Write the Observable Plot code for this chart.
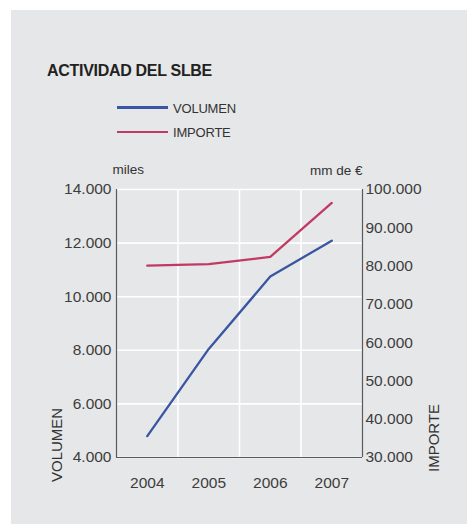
<!DOCTYPE html>
<html>
<head>
<meta charset="utf-8">
<script src="https://cdn.jsdelivr.net/npm/d3@7"></script>
<script src="https://cdn.jsdelivr.net/npm/@observablehq/plot@0.6"></script>
<style>
  html, body { margin: 0; padding: 0; background: #ffffff; }
  #page { position: relative; width: 467px; height: 524px; overflow: hidden; font-family: "Liberation Sans", Arial, sans-serif; }
  #bg { position: absolute; left: 11px; top: 10px; right: 0; bottom: 0; background: #e6e7e8; }
  .t { position: absolute; line-height: 1; white-space: nowrap; color: #333; }
  .rot { transform-origin: left top; transform: rotate(-90deg); }
  .sw { position: absolute; height: 2.5px; width: 51px; }
  #chart { position: absolute; left: 0; top: 0; }
</style>
</head>
<body>
<div id="page">
  <div id="bg"></div>
  <div id="chart"></div>
  <div class="t" style="left:47px;top:63px;font-size:16px;font-weight:bold;letter-spacing:-0.3px;color:#222;">ACTIVIDAD DEL SLBE</div>
  <div class="sw" id="sw0" style="left:117px;top:106px;"></div>
  <div class="t" id="lg0" style="left:173px;top:101.7px;font-size:13px;letter-spacing:-0.2px;"></div>
  <div class="sw" id="sw1" style="left:117px;top:130.5px;"></div>
  <div class="t" id="lg1" style="left:173px;top:126.3px;font-size:13px;letter-spacing:-0.2px;"></div>
  <div class="t" id="uL" style="left:112.5px;top:163px;font-size:13.5px;"></div>
  <div class="t" id="uR" style="left:310px;top:163.5px;font-size:13.5px;"></div>
  <div class="t rot" id="aL" style="left:49px;top:481.7px;font-size:15px;"></div>
  <div class="t rot" id="aR" style="left:425.6px;top:471.7px;font-size:15px;"></div>
</div>
<script>
// ---- data ----
const years = [2004, 2005, 2006, 2007];
const volumen = [4800, 8050, 10750, 12090];   // miles (left axis)
const importe = [80100, 80500, 82400, 96500]; // mm de € (right axis)
const leftTicks = [4000, 6000, 8000, 10000, 12000, 14000];
const rightTicks = [30000, 40000, 50000, 60000, 70000, 80000, 90000, 100000];
const seriesNames = ["VOLUMEN", "IMPORTE"];
const seriesColors = ["#3a55a2", "#c13a63"];
const unitLeft = "miles";
const unitRight = "mm de €";

// ---- labels ----
document.getElementById("lg0").textContent = seriesNames[0];
document.getElementById("lg1").textContent = seriesNames[1];
document.getElementById("sw0").style.background = seriesColors[0];
document.getElementById("sw1").style.background = seriesColors[1];
document.getElementById("uL").textContent = unitLeft;
document.getElementById("uR").textContent = unitRight;
document.getElementById("aL").textContent = seriesNames[0];
document.getElementById("aR").textContent = seriesNames[1];

// ---- scales ----
const es = d3.formatLocale({decimal: ",", thousands: ".", grouping: [3], currency: ["", " €"]});
const fmt = es.format(",.0f");
const yDomain = [leftTicks[0], leftTicks[leftTicks.length - 1]];
const rDomain = [rightTicks[0], rightTicks[rightTicks.length - 1]];
const toLeft = v => yDomain[0] + (v - rDomain[0]) * (yDomain[1] - yDomain[0]) / (rDomain[1] - rDomain[0]);
const toRight = v => rDomain[0] + (v - yDomain[0]) * (rDomain[1] - rDomain[0]) / (yDomain[1] - yDomain[0]);
const xDomain = [years[0] - 0.5, years[years.length - 1] + 0.5];
const xGrid = years.slice(0, -1).map(y => y + 0.5);

const rows = [];
years.forEach((yr, i) => {
  rows.push({year: yr, value: volumen[i], series: seriesNames[0]});
  rows.push({year: yr, value: toLeft(importe[i]), series: seriesNames[1]});
});

const axisColor = "#5a5a5a";
const textColor = "#3d3d3d";

const chart = Plot.plot({
  width: 467,
  height: 524,
  marginLeft: 116,
  marginRight: 105,
  marginTop: 189,
  marginBottom: 67,
  style: {background: "transparent", fontFamily: "'Liberation Sans', Arial, sans-serif", fontSize: "15.5px", color: textColor},
  x: {type: "linear", domain: xDomain},
  y: {type: "linear", domain: yDomain},
  color: {domain: seriesNames, range: seriesColors},
  marks: [
    Plot.ruleY(leftTicks, {stroke: "#ffffff", strokeWidth: 1.6}),
    Plot.ruleX(xGrid, {stroke: "#ffffff", strokeWidth: 1.6}),
    Plot.ruleX([xDomain[0], xDomain[1]], {y1: yDomain[0], y2: yDomain[1], stroke: axisColor, strokeWidth: 1.2}),
    Plot.ruleY([yDomain[0]], {x1: xDomain[0], x2: xDomain[1], stroke: axisColor, strokeWidth: 1.2}),
    Plot.line(rows, {x: "year", y: "value", z: "series", stroke: "series", strokeWidth: 2.3}),
    Plot.axisX({ticks: years, tickFormat: d => String(d), tickSize: 0, tickPadding: 19, label: null, fill: textColor}),
    Plot.axisY({anchor: "left", ticks: leftTicks, tickFormat: fmt, tickSize: 0, tickPadding: 5, label: null, fill: textColor}),
    Plot.axisY({anchor: "right", ticks: rightTicks.map(toLeft), tickFormat: d => fmt(Math.round(toRight(d))), tickSize: 0, tickPadding: 3, label: null, fill: textColor})
  ]
});
document.getElementById("chart").appendChild(chart);
</script>
</body>
</html>
